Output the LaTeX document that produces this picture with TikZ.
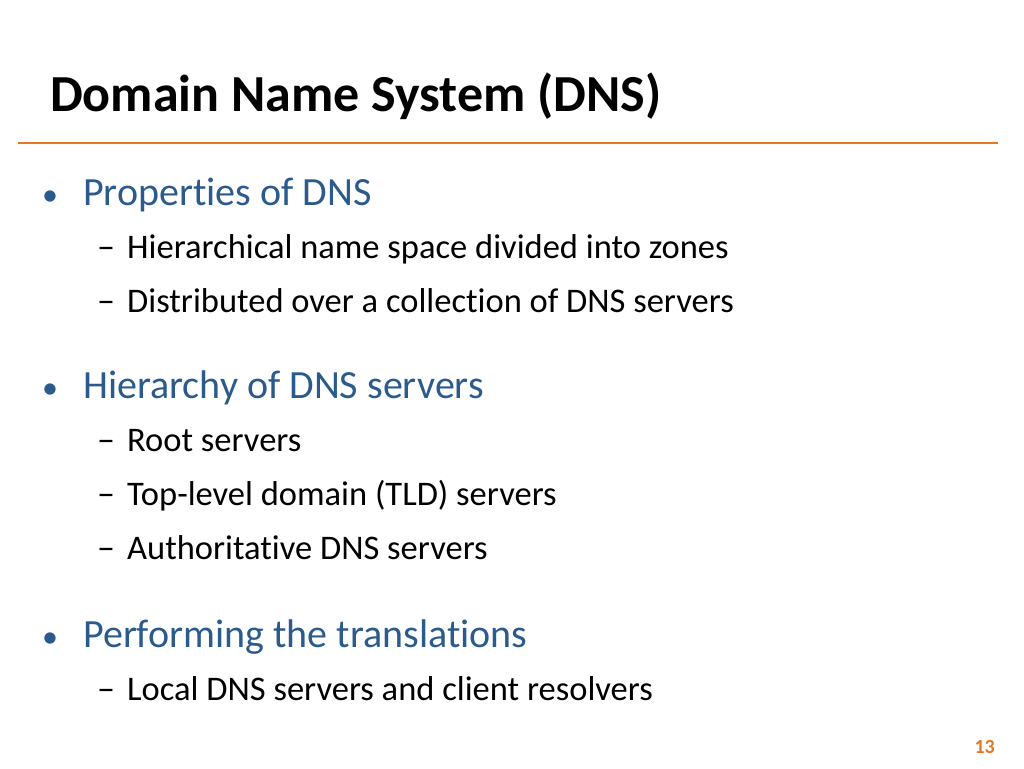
\documentclass[tikz,border=0pt]{standalone}
\usepackage{fontspec}
\setmainfont[Ligatures=CommonOff]{Carlito}
\definecolor{blu}{HTML}{2B5A8C}
\definecolor{org}{HTML}{E87722}
\begin{document}
\begin{tikzpicture}[x=1pt,y=-1pt,
  lone/.style={anchor=base west,inner sep=0,text=blu,font=\fontsize{40}{44}\selectfont},
  ltwo/.style={anchor=base west,inner sep=0,font=\fontsize{34.5}{38}\selectfont},
  bul/.style={anchor=base west,inner sep=0,text=blu,font=\fontsize{32}{36}\selectfont},
  dsh/.style={anchor=base west,inner sep=0,font=\fontsize{36}{40}\selectfont}]
\useasboundingbox (0,0) rectangle (1024,768);
\node[anchor=base west,inner sep=0,font=\fontsize{52}{56}\selectfont\bfseries] (t) at (50,111) {Domain Name System (DNS)};
\coordinate (l1) at (18,143); \coordinate (l2) at (998,143);
\draw[org,line width=2pt] (l1) -- (l2);
\foreach \y/\txt/\n in {205/Properties of DNS/a, 398/Hierarchy of DNS servers/b, 647/Performing the translations/c}{
  \node[bul] (d\n) at (42,\y) {•};
  \node[lone] (p\n) at (83,\y) {\txt};}
\foreach \y/\txt/\n in {258/Hierarchical name space divided into zones/a, 312/Distributed over a collection of DNS servers/b, 451/Root servers/c, 505/Top-level domain (TLD) servers/d, 559/Authoritative DNS servers/e, 700/Local DNS servers and client resolvers/f}{
  \node[dsh] (e\n) at (97,\y) {–};
  \node[ltwo] (s\n) at (127,\y) {\txt};}
\node[anchor=base east,inner sep=0,text=org,font=\fontsize{20}{22}\selectfont\bfseries] (pg) at (995,753) {13};
\end{tikzpicture}
\end{document}
